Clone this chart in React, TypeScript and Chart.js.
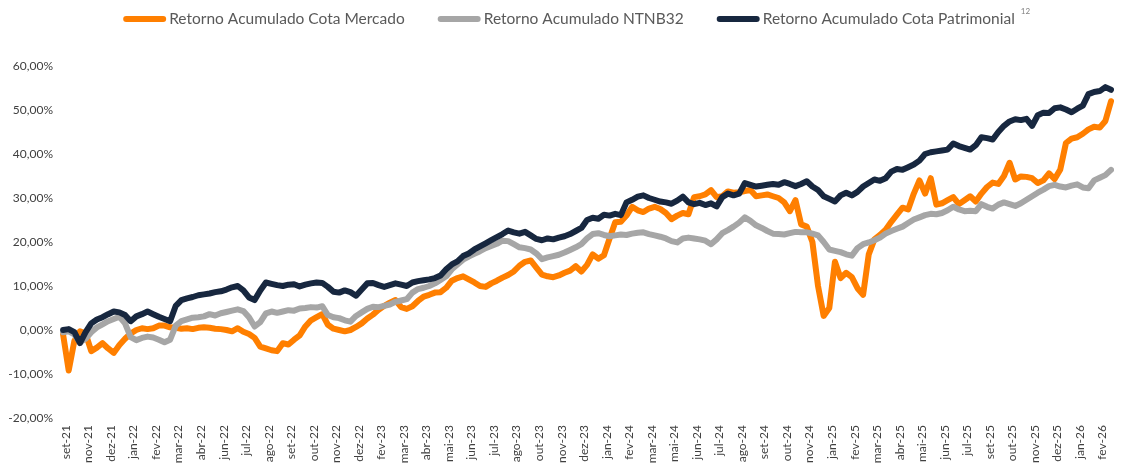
import { useEffect, useRef } from 'react';
import { Chart, registerables } from 'chart.js';

Chart.register(...registerables);

const xLabels = [
  'set-21', 'nov-21', 'dez-21', 'jan-22', 'fev-22', 'mar-22', 'abr-22', 'jun-22', 'jul-22', 'ago-22',
  'set-22', 'out-22', 'nov-22', 'dez-22', 'fev-23', 'mar-23', 'abr-23', 'mai-23', 'jun-23', 'jul-23',
  'ago-23', 'out-23', 'nov-23', 'dez-23', 'jan-24', 'fev-24', 'mar-24', 'mai-24', 'jun-24', 'jul-24',
  'ago-24', 'set-24', 'out-24', 'nov-24', 'jan-25', 'fev-25', 'mar-25', 'abr-25', 'mai-25', 'jun-25',
  'jul-25', 'set-25', 'out-25', 'nov-25', 'dez-25', 'jan-26', 'fev-26',
];

// position (in label units) of first sample and spacing between samples
const FIRST_X = -0.125;
const STEP_X = 0.25;

const mercado = [
  -1.0, -9.2, -2.5, -0.3, -0.8, -4.8, -4.0, -3.0, -4.2, -5.2,
  -3.4, -2.0, -0.8, 0.0, 0.4, 0.2, 0.4, 1.0, 1.0, 0.6,
  0.5, 0.3, 0.4, 0.2, 0.5, 0.6, 0.5, 0.3, 0.2, 0.0,
  -0.3, 0.4, -0.4, -0.9, -1.8, -3.8, -4.2, -4.6, -4.8, -3.0,
  -3.3, -2.2, -1.2, 0.8, 2.2, 2.9, 3.6, 1.2, 0.3, 0.0,
  -0.3, 0.0, 0.7, 1.5, 2.6, 3.5, 4.6, 5.5, 6.2, 6.8,
  5.2, 4.8, 5.4, 6.6, 7.6, 8.0, 8.5, 8.6, 9.6, 11.2,
  11.8, 12.2, 11.5, 10.8, 10.0, 9.8, 10.6, 11.2, 11.9, 12.5,
  13.3, 14.6, 15.5, 15.8, 14.2, 12.6, 12.2, 12.0, 12.4, 13.0,
  13.5, 14.5, 13.3, 14.8, 17.2, 16.2, 17.0, 20.8, 24.5, 24.6,
  26.0, 28.0, 27.2, 26.8, 27.6, 28.0, 27.5, 26.6, 25.2, 26.0,
  26.6, 26.3, 30.2, 30.4, 30.8, 31.8, 30.2, 30.4, 31.5, 31.2,
  31.3, 31.6, 31.8, 30.4, 30.6, 30.8, 30.4, 30.0, 29.0, 27.0,
  29.5, 24.0, 23.5, 20.0, 10.0, 3.2, 5.0, 15.5, 11.8, 13.0,
  12.0, 9.5, 8.0, 17.2, 20.6, 21.6, 22.8, 24.6, 26.2, 27.8,
  27.4, 31.0, 34.0, 31.0, 34.5, 28.5, 28.8, 29.5, 30.2, 28.6,
  29.5, 30.4, 29.2, 31.0, 32.5, 33.5, 33.2, 35.0, 38.0, 34.2,
  34.9, 34.8, 34.5, 33.4, 34.0, 35.6, 34.3, 36.5, 42.5, 43.5,
  43.8, 44.6, 45.6, 46.2, 46.0, 47.5, 52.0,
];

const ntnb32 = [
  -0.5, -0.3, -1.0, -2.8, -2.0, -0.5, 0.6, 1.3, 2.0, 2.5,
  3.0, 1.5, -1.6, -2.3, -1.8, -1.5, -1.7, -2.2, -2.8, -2.2,
  1.0, 2.0, 2.4, 2.8, 2.9, 3.1, 3.6, 3.3, 3.8, 4.1,
  4.4, 4.7, 4.3, 2.9, 0.8, 1.8, 3.8, 4.2, 3.9, 4.2,
  4.5, 4.4, 4.9, 5.0, 5.2, 5.1, 5.4, 3.4, 2.9, 2.7,
  2.2, 1.9, 3.2, 4.0, 4.8, 5.3, 5.2, 5.5, 5.8, 6.4,
  6.7, 7.0, 8.5, 9.3, 9.6, 10.0, 10.6, 11.4, 12.2, 13.8,
  14.9, 16.0, 16.7, 17.3, 17.9, 18.6, 19.1, 19.6, 20.3, 20.2,
  19.5, 18.8, 18.6, 18.3, 17.4, 16.1, 16.5, 16.8, 17.1, 17.6,
  18.2, 18.8, 19.5, 20.8, 21.8, 22.0, 21.6, 21.3, 21.5, 21.7,
  21.6, 21.9, 22.1, 22.2, 21.8, 21.5, 21.2, 20.8, 20.2, 19.9,
  20.8, 21.0, 20.8, 20.6, 20.3, 19.5, 20.6, 22.0, 22.7, 23.5,
  24.4, 25.6, 24.8, 23.8, 23.2, 22.5, 21.9, 21.8, 21.7, 22.0,
  22.3, 22.2, 22.2, 21.9, 21.5, 20.0, 18.3, 18.0, 17.7, 17.2,
  16.9, 18.6, 19.5, 19.9, 20.4, 21.0, 21.9, 22.5, 23.0, 23.5,
  24.3, 25.1, 25.6, 26.1, 26.4, 26.3, 26.6, 27.2, 28.0, 27.4,
  27.0, 27.1, 27.0, 28.6, 28.0, 27.6, 28.5, 29.0, 28.6, 28.2,
  28.8, 29.6, 30.4, 31.2, 31.9, 32.7, 33.0, 32.6, 32.4, 32.8,
  33.1, 32.4, 32.2, 34.0, 34.6, 35.2, 36.4,
];

const patrimonial = [
  0.0, 0.2, -0.5, -3.0, -0.5, 1.5, 2.4, 2.9, 3.6, 4.2,
  4.0, 3.4, 2.0, 3.1, 3.6, 4.2, 3.6, 3.0, 2.5, 2.0,
  5.5, 6.8, 7.2, 7.5, 7.9, 8.1, 8.3, 8.6, 8.8, 9.2,
  9.7, 10.0, 9.0, 7.4, 6.8, 9.0, 10.8, 10.5, 10.2, 10.0,
  10.3, 10.4, 9.9, 10.3, 10.6, 10.8, 10.7, 9.8, 8.7, 8.5,
  9.0, 8.6, 7.8, 9.2, 10.6, 10.7, 10.2, 9.8, 10.2, 10.6,
  10.3, 10.0, 10.8, 11.1, 11.3, 11.5, 11.8, 12.4, 13.8, 14.9,
  15.6, 16.8, 17.4, 18.3, 19.0, 19.7, 20.4, 21.1, 21.8, 22.6,
  22.2, 21.9, 22.3, 21.5, 20.7, 20.4, 20.8, 20.6, 21.0, 21.3,
  21.8, 22.5, 23.2, 25.0, 25.5, 25.3, 26.2, 26.0, 26.4, 26.1,
  29.0, 29.6, 30.3, 30.6, 30.0, 29.6, 29.2, 29.0, 28.7, 29.4,
  30.3, 29.0, 28.6, 28.9, 28.4, 28.8, 28.1, 30.2, 31.0, 30.6,
  31.0, 33.4, 33.0, 32.6, 32.8, 33.0, 33.2, 33.0, 33.6, 33.2,
  32.7, 33.2, 33.8, 32.6, 31.8, 30.4, 29.8, 29.2, 30.6, 31.2,
  30.6, 31.4, 32.6, 33.4, 34.2, 33.9, 34.5, 36.0, 36.6, 36.4,
  37.0, 37.6, 38.5, 40.0, 40.4, 40.6, 40.8, 41.0, 42.4, 41.8,
  41.4, 41.0, 42.0, 43.8, 43.6, 43.3, 45.0, 46.4, 47.4, 47.9,
  47.7, 48.0, 46.4, 48.8, 49.4, 49.3, 50.4, 50.6, 50.1, 49.5,
  50.3, 51.0, 53.6, 54.1, 54.3, 55.2, 54.6,
];

const seriesNames = [
  'Retorno Acumulado Cota Mercado',
  'Retorno Acumulado NTNB32',
  'Retorno Acumulado Cota Patrimonial',
];
const seriesColors = ['#FF7F00', '#A6A6A6', '#17273F'];
const yMin = -20;
const yMax = 60;
const yStep = 10;
const noteText = '12';

const FONT = 'Lato, "Open Sans", sans-serif';

const toPoints = (vals: number[]) => vals.map((v, i) => ({ x: FIRST_X + i * STEP_X, y: v }));

const topLegend = {
  id: 'topLegend',
  afterDraw(chart: any) {
    const ctx = chart.ctx as CanvasRenderingContext2D;
    ctx.save();
    ctx.font = `15.5px ${FONT}`;
    const sample = 43;
    const gapT = 3;
    const gapI = 33;
    const ds = chart.data.datasets;
    const widths = ds.map((d: any) => ctx.measureText(d.label).width);
    const total = widths.reduce((a: number, w: number) => a + sample + gapT + w, 0) + gapI * (ds.length - 1);
    let x = (chart.width - total) / 2 + 7;
    const y = 19;
    ds.forEach((d: any, i: number) => {
      ctx.strokeStyle = d.borderColor;
      ctx.lineWidth = 6;
      ctx.lineCap = 'round';
      ctx.beginPath();
      ctx.moveTo(x + 3, y);
      ctx.lineTo(x + sample - 3, y);
      ctx.stroke();
      ctx.fillStyle = '#595959';
      ctx.textBaseline = 'middle';
      ctx.textAlign = 'left';
      ctx.fillText(d.label, x + sample + gapT, y);
      x += sample + gapT + widths[i] + gapI;
    });
    ctx.font = `8px ${FONT}`;
    ctx.fillStyle = '#808080';
    ctx.fillText(noteText, x - gapI + 6, 11);
    ctx.restore();
  },
};

export default function App() {
  const ref = useRef<HTMLCanvasElement | null>(null);

  useEffect(() => {
    if (!ref.current) return;
    const series = [mercado, ntnb32, patrimonial];
    const chart = new Chart(ref.current, {
      type: 'line',
      data: {
        datasets: series.map((vals, i) => ({
          label: seriesNames[i],
          data: toPoints(vals),
          borderColor: seriesColors[i],
          backgroundColor: seriesColors[i],
          borderWidth: 6,
          pointRadius: 0,
          tension: 0,
          borderJoinStyle: 'round',
          borderCapStyle: 'round',
          order: series.length - 1 - i,
        })),
      },
      options: {
        animation: false,
        responsive: true,
        maintainAspectRatio: false,
        layout: { padding: { top: 66, right: 4, left: 0, bottom: 0 } },
        plugins: {
          legend: { display: false },
          tooltip: { enabled: false },
        },
        scales: {
          x: {
            type: 'linear',
            min: -0.35,
            max: 46.51,
            grid: { display: false, drawTicks: false },
            border: { display: false },
            afterBuildTicks: (axis: any) => {
              axis.ticks = xLabels.map((_, i) => ({ value: i }));
            },
            afterFit: (axis: any) => {
              axis.height = 45;
            },
            ticks: {
              autoSkip: false,
              maxRotation: 90,
              minRotation: 90,
              padding: 7,
              color: '#404040',
              font: { family: FONT, size: 12 },
              callback: (v: any) => xLabels[Math.round(Number(v))] ?? '',
            },
          },
          y: {
            min: yMin,
            max: yMax,
            grid: { display: false, drawTicks: false },
            border: { display: false },
            afterFit: (axis: any) => {
              axis.width = 58;
            },
            ticks: {
              stepSize: yStep,
              padding: 5,
              color: '#404040',
              font: { family: FONT, size: 12 },
              callback: (v: any) => Number(v).toFixed(2).replace('.', ',') + '%',
            },
          },
        },
      },
      plugins: [topLegend],
    });
    return () => chart.destroy();
  }, []);

  return (
    <div style={{ position: 'fixed', left: 0, top: 0, width: 1124, height: 463, background: '#fff' }}>
      <canvas ref={ref} />
    </div>
  );
}
